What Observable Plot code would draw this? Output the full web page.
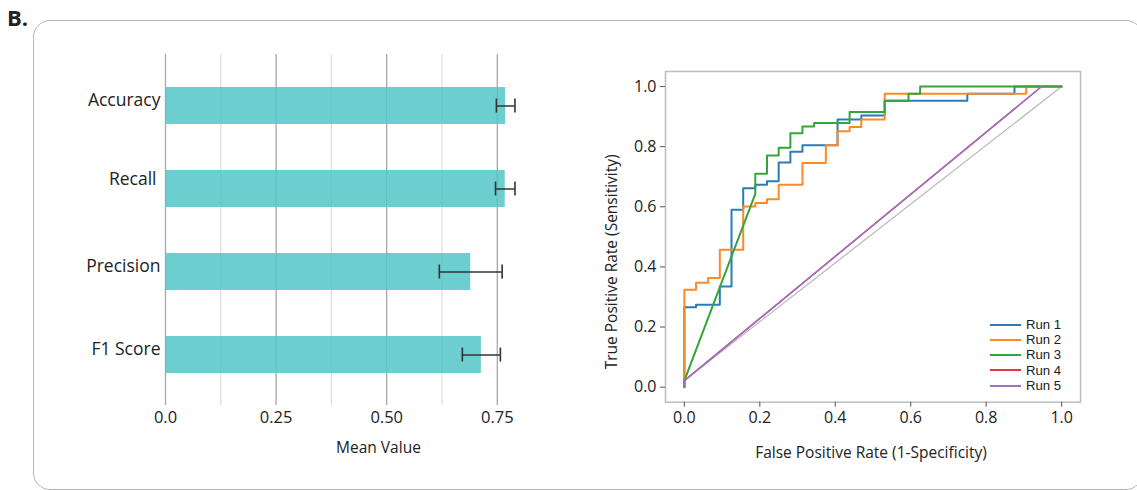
<!DOCTYPE html>
<html><head><meta charset="utf-8">
<script src="https://cdn.jsdelivr.net/npm/d3@7"></script>
<script src="https://cdn.jsdelivr.net/npm/@observablehq/plot@0.6"></script>
<style>
html,body{margin:0;padding:0;background:#fff;}
#root{position:relative;width:1137px;height:490px;overflow:hidden;font-family:"Open Sans",sans-serif;color:#222;}
#panel{position:absolute;left:33px;top:20px;width:1110px;height:470px;border:1.5px solid #b5b5b5;border-radius:17px;box-sizing:border-box;}
#tag{position:absolute;left:7px;top:4px;font-weight:bold;font-size:22px;line-height:26px;}
#left{position:absolute;left:0;top:0;}
#right{position:absolute;left:580px;top:0;}
#legend{position:absolute;left:990px;top:316px;font-family:"Liberation Sans",Arial,sans-serif;font-size:13.2px;line-height:15.3px;color:#222;}
.row{display:block;height:15.3px;white-space:nowrap;}
.sw{display:inline-block;width:31px;height:2px;vertical-align:middle;margin-right:5px;}
.lab{display:inline-block;vertical-align:middle;line-height:15.3px;}
</style></head><body>
<div id="root">
  <div id="panel"></div>
  <div id="tag">B.</div>
  <div id="left"></div>
  <div id="right"></div>
  <div id="legend"></div>
</div>
<script>
// ---- Bar chart data ----
const metrics = ["Accuracy", "Recall", "Precision", "F1 Score"];
const meanValues = [0.769, 0.768, 0.690, 0.714];
const errLow = [0.748, 0.746, 0.619, 0.671];
const errHigh = [0.790, 0.790, 0.761, 0.757];
const meanTicks = [0, 0.25, 0.5, 0.75];
const meanTickLabels = ["0.0", "0.25", "0.50", "0.75"];
const minorGrid = [0.125, 0.375, 0.625];

// ---- ROC data ----
const runs = ["Run 1", "Run 2", "Run 3", "Run 4", "Run 5"];
const runColors = ["#2b7bba", "#fd8a24", "#36a43a", "#e0393a", "#9b73c4"];
const run1Fpr = [0, 0, 0.031, 0.031, 0.094, 0.094, 0.125, 0.125, 0.156, 0.156, 0.188, 0.188, 0.219, 0.219, 0.25, 0.25, 0.281, 0.281, 0.313, 0.313, 0.406, 0.406, 0.469, 0.469, 0.531, 0.531, 0.75, 0.75, 0.875, 0.875, 1.0];
const run1Tpr = [0, 0.266, 0.266, 0.274, 0.274, 0.335, 0.335, 0.590, 0.590, 0.662, 0.662, 0.673, 0.673, 0.685, 0.685, 0.747, 0.747, 0.783, 0.783, 0.805, 0.805, 0.890, 0.890, 0.904, 0.904, 0.953, 0.953, 0.976, 0.976, 1.0, 1.0];
const run2Fpr = [0, 0, 0.031, 0.031, 0.063, 0.063, 0.094, 0.094, 0.156, 0.156, 0.188, 0.188, 0.219, 0.219, 0.25, 0.25, 0.313, 0.313, 0.375, 0.375, 0.406, 0.406, 0.438, 0.438, 0.469, 0.469, 0.531, 0.531, 0.906, 0.906, 1.0];
const run2Tpr = [0, 0.324, 0.324, 0.347, 0.347, 0.363, 0.363, 0.457, 0.457, 0.601, 0.601, 0.613, 0.613, 0.625, 0.625, 0.673, 0.673, 0.746, 0.746, 0.805, 0.805, 0.851, 0.851, 0.865, 0.865, 0.890, 0.890, 0.976, 0.976, 1.0, 1.0];
const run3Fpr = [0, 0, 0.188, 0.188, 0.219, 0.219, 0.25, 0.25, 0.281, 0.281, 0.313, 0.313, 0.344, 0.344, 0.438, 0.438, 0.531, 0.531, 0.594, 0.594, 0.625, 0.625, 1.0];
const run3Tpr = [0, 0.022, 0.643, 0.710, 0.710, 0.771, 0.771, 0.796, 0.796, 0.845, 0.845, 0.867, 0.867, 0.879, 0.879, 0.915, 0.915, 0.953, 0.953, 0.976, 0.976, 1.0, 1.0];
const run4Fpr = [0, 0, 0.947];
const run4Tpr = [0, 0.022, 1.0];
const run5Fpr = [0, 0, 0.947];
const run5Tpr = [0, 0.022, 1.0];
const chanceFpr = [0, 1];
const chanceTpr = [0.022, 1];
const rocTicks = [0, 0.2, 0.4, 0.6, 0.8, 1.0];

// ---- build tables ----
const barData = metrics.map((m, i) => ({metric: m, mean: meanValues[i], lo: errLow[i], hi: errHigh[i]}));
const fprs = [run1Fpr, run2Fpr, run3Fpr, run4Fpr, run5Fpr];
const tprs = [run1Tpr, run2Tpr, run3Tpr, run4Tpr, run5Tpr];
const rocData = runs.flatMap((r, k) => fprs[k].map((f, i) => ({run: r, fpr: f, tpr: tprs[k][i]})));
const chanceData = chanceFpr.map((f, i) => ({fpr: f, tpr: chanceTpr[i]}));

const left = Plot.plot({
  width: 540, height: 490,
  marginLeft: 165, marginRight: 21.1, marginTop: 54, marginBottom: 85,
  style: {background: "transparent", fontFamily: "Open Sans", color: "#222"},
  x: {domain: [0, 0.8], axis: null},
  y: {domain: metrics, paddingInner: 0.558, paddingOuter: 0.374, axis: null},
  marks: [
    Plot.ruleX(minorGrid, {stroke: "#dcdcdc", strokeWidth: 1.2}),
    Plot.ruleX(meanTicks, {stroke: "#a8a8a8", strokeWidth: 1.3}),
    Plot.barX(barData, {y: "metric", x: "mean", fill: "#52c5c5", fillOpacity: 0.85}),
    Plot.ruleY(barData, {y: "metric", x1: "lo", x2: "hi", stroke: "#333", strokeWidth: 1.5}),
    Plot.tickX(barData, {y: "metric", x: "lo", insetTop: 11.5, insetBottom: 11.5, stroke: "#333", strokeWidth: 1.6}),
    Plot.tickX(barData, {y: "metric", x: "hi", insetTop: 11.5, insetBottom: 11.5, stroke: "#333", strokeWidth: 1.6}),
    Plot.text(barData.filter(d => d.metric !== "Recall"), {y: "metric", text: "metric", frameAnchor: "left", textAnchor: "end", dx: -5, dy: -6, fontSize: 17.5, fill: "#222"}),
    Plot.text(barData.filter(d => d.metric === "Recall"), {y: "metric", text: "metric", frameAnchor: "left", textAnchor: "end", dx: -9, dy: -10, fontSize: 17.5, fill: "#222"}),
    Plot.axisX({ticks: meanTicks, tickFormat: d => meanTickLabels[meanTicks.indexOf(d)], tickSize: 0, tickPadding: 6, fontSize: 16.5, label: null}),
    Plot.text(["Mean Value"], {frameAnchor: "bottom", dx: 36, dy: 47, fontSize: 15.5, fill: "#222"})
  ]
});
document.getElementById("left").appendChild(left);

const right = Plot.plot({
  width: 557, height: 490,
  marginLeft: 85, marginRight: 57, marginTop: 71, marginBottom: 88.3,
  style: {background: "transparent", fontFamily: "Open Sans", color: "#222"},
  x: {domain: [-0.05, 1.05], axis: null},
  y: {domain: [-0.05, 1.05], axis: null},
  color: {domain: runs, range: runColors},
  marks: [
    Plot.frame({stroke: "#bdbdbd", strokeWidth: 1.5}),
    Plot.line(chanceData, {x: "fpr", y: "tpr", stroke: "#bbbbbb", strokeWidth: 1.3}),
    Plot.line(rocData.filter(d => d.run === "Run 1" || d.run === "Run 2" || d.run === "Run 3"), {x: "fpr", y: "tpr", z: "run", stroke: "run", strokeWidth: 2}),
    Plot.line(rocData.filter(d => d.run === "Run 4" || d.run === "Run 5"), {x: "fpr", y: "tpr", z: "run", stroke: "run", strokeWidth: 1.5}),
    Plot.axisX({ticks: rocTicks, tickFormat: d3.format(".1f"), tickSize: 5, tickPadding: 4, fontSize: 16, label: null, stroke: "#555"}),
    Plot.axisY({ticks: rocTicks, tickFormat: d3.format(".1f"), tickSize: 5, tickPadding: 4, fontSize: 16, label: null, stroke: "#555"}),
    Plot.text(["False Positive Rate (1-Specificity)"], {frameAnchor: "bottom", dx: -2, dy: 56, fontSize: 15.5, fill: "#222"}),
    Plot.text(["True Positive Rate (Sensitivity)"], {frameAnchor: "left", textAnchor: "middle", rotate: -90, dx: -53, dy: 25, fontSize: 15.5, fill: "#222"})
  ]
});
document.getElementById("right").appendChild(right);

const legend = document.getElementById("legend");
runs.forEach((r, i) => {
  const row = document.createElement("div");
  row.className = "row";
  const sw = document.createElement("span");
  sw.className = "sw";
  sw.style.background = runColors[i];
  const t = document.createElement("span");
  t.className = "lab";
  t.textContent = r;
  row.appendChild(sw); row.appendChild(t);
  legend.appendChild(row);
});
</script>
</body></html>
